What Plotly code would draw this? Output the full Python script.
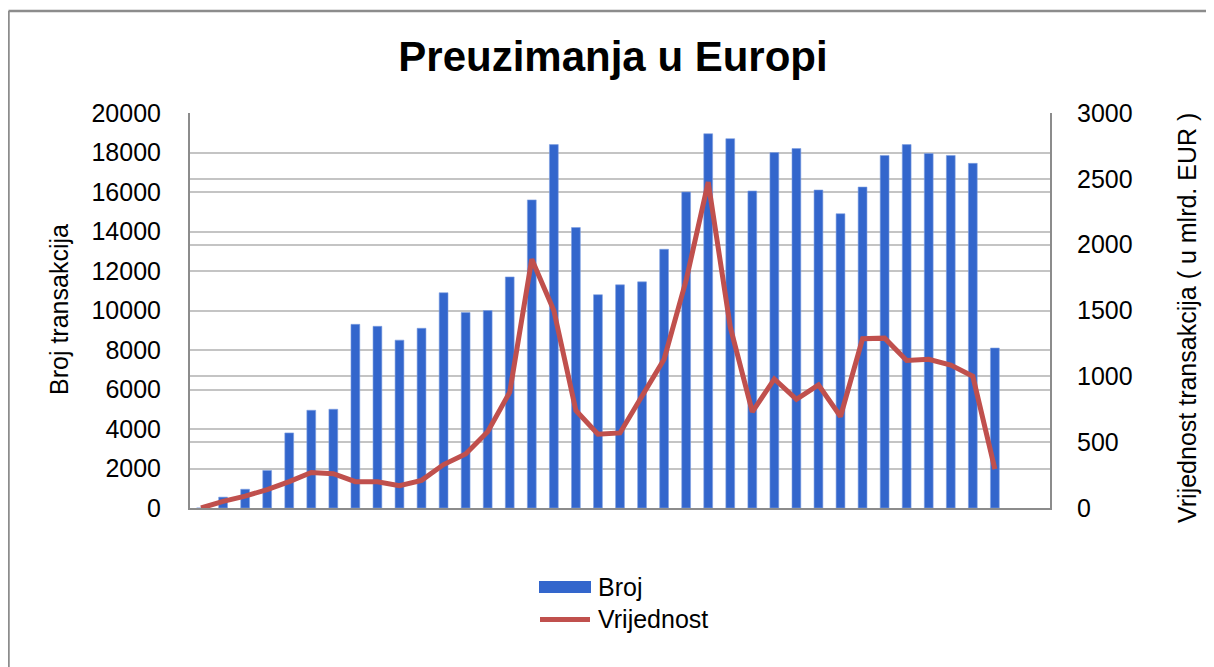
import plotly.graph_objects as go

# Categories (periods) – the chart shows no category labels; two trailing empty slots
categories = list(range(39))

# Broj transakcija (left axis)
broj = [0, 550, 950, 1900, 3800, 4950, 5000, 9300, 9200, 8500, 9100, 10900, 9900,
        10000, 11700, 15600, 18400, 14200, 10800, 11300, 11450, 13100, 16000, 18950,
        18700, 16050, 18000, 18200, 16100, 14900, 16250, 17850, 18400, 17950, 17850,
        17450, 8100, None, None]

# Vrijednost transakcija, u mlrd. EUR (right axis)
vrijednost = [0, 50, 90, 140, 200, 270, 260, 200, 200, 170, 210, 330, 410,
              580, 880, 1890, 1500, 740, 560, 570, 850, 1130, 1730, 2475,
              1375, 730, 980, 825, 935, 695, 1285, 1290, 1120, 1130, 1085,
              1000, 295, None, None]

left_ticks = [0, 2000, 4000, 6000, 8000, 10000, 12000, 14000, 16000, 18000, 20000]
right_ticks = [0, 500, 1000, 1500, 2000, 2500, 3000]

FONT = "Liberation Sans, Arial, sans-serif"
BLUE = "#3366CC"
RED = "#C0504D"

# page has an 8px body margin: work in reference pixels, convert by OFF
OFF = 8
W, H = 1214 - OFF, 667 - OFF
L, R, T, B = 190, 1050, 113, 508  # plot area in reference pixels

fig = go.Figure()
fig.add_trace(go.Bar(
    x=categories, y=broj, name="Broj",
    marker=dict(color=BLUE, line=dict(color="#7f9fe0", width=0.6)),
    yaxis="y", showlegend=False,
))
fig.add_trace(go.Scatter(
    x=categories, y=vrijednost, name="Vrijednost", mode="lines",
    line=dict(color=RED, width=5),
    yaxis="y2", connectgaps=False, showlegend=False,
))

def px_x(px):
    return (px - L) / (R - L)

def px_y(py):
    return (B - py) / (B - T)

fig.update_layout(
    width=W, height=H,
    margin=dict(l=L - OFF, r=W - (R - OFF), t=T - OFF, b=H - (B - OFF), pad=0),
    paper_bgcolor="white", plot_bgcolor="white",
    font=dict(family=FONT, size=25, color="#000000"),
    title=dict(text="<b>Preuzimanja u Europi</b>", x=(613 - OFF) / W, xanchor="center",
               y=1 - (56 - OFF) / H, yanchor="middle",
               font=dict(family=FONT, size=42, color="#000000")),
    bargap=0.6,
    showlegend=False,
    xaxis=dict(range=[-0.5, 38.5], showticklabels=False, ticks="",
               showgrid=False, zeroline=False,
               showline=True, linecolor="#8c8c8c", linewidth=2),
    yaxis=dict(range=[0, 20000], tickvals=left_ticks,
               ticktext=[str(v) for v in left_ticks],
               showgrid=True, gridcolor="#c4c4c4", gridwidth=1.5,
               zeroline=False, showline=True, linecolor="#8c8c8c", linewidth=2,
               ticks="", ticklabelstandoff=22,
               tickfont=dict(family=FONT, size=25, color="#000000")),
    yaxis2=dict(range=[0, 3000], tickvals=right_ticks,
                ticktext=[str(v) for v in right_ticks],
                overlaying="y", side="right",
                showgrid=True, gridcolor="#c4c4c4", gridwidth=1.5,
                zeroline=False, showline=True, linecolor="#8c8c8c", linewidth=2,
                ticks="", ticklabelstandoff=20,
                tickfont=dict(family=FONT, size=25, color="#000000")),
)

# Axis titles
fig.add_annotation(text="Broj transakcija", xref="paper", yref="paper",
                   x=px_x(59), y=px_y(310), textangle=-90, showarrow=False,
                   xanchor="center", yanchor="middle",
                   font=dict(family=FONT, size=25, color="#000000"))
fig.add_annotation(text="Vrijednost transakcija ( u mlrd. EUR )", xref="paper", yref="paper",
                   x=px_x(1187), y=px_y(318), textangle=-90, showarrow=False,
                   xanchor="center", yanchor="middle",
                   font=dict(family=FONT, size=25, color="#000000"))

# Legend (drawn to match the reference's wide swatches)
fig.add_shape(type="rect", xref="paper", yref="paper",
              x0=px_x(539), x1=px_x(591), y0=px_y(581), y1=px_y(593),
              fillcolor=BLUE, line=dict(width=0))
fig.add_shape(type="line", xref="paper", yref="paper",
              x0=px_x(540), x1=px_x(590), y0=px_y(619.5), y1=px_y(619.5),
              line=dict(color=RED, width=5))
fig.add_annotation(text="Broj", xref="paper", yref="paper",
                   x=px_x(596), y=px_y(587), showarrow=False,
                   xanchor="left", yanchor="middle",
                   font=dict(family=FONT, size=25, color="#000000"))
fig.add_annotation(text="Vrijednost", xref="paper", yref="paper",
                   x=px_x(596), y=px_y(619), showarrow=False,
                   xanchor="left", yanchor="middle",
                   font=dict(family=FONT, size=25, color="#000000"))

# Chart-area border (left and top edges visible)
fig.add_shape(type="line", xref="paper", yref="paper",
              x0=px_x(8.5), x1=px_x(8.5), y0=px_y(11), y1=px_y(700),
              line=dict(color="#8c8c8c", width=2.5))
fig.add_shape(type="line", xref="paper", yref="paper",
              x0=px_x(8.5), x1=px_x(1230), y0=px_y(11), y1=px_y(11),
              line=dict(color="#8c8c8c", width=2.5))

fig.write_html("out.html", config={"displayModeBar": False})
